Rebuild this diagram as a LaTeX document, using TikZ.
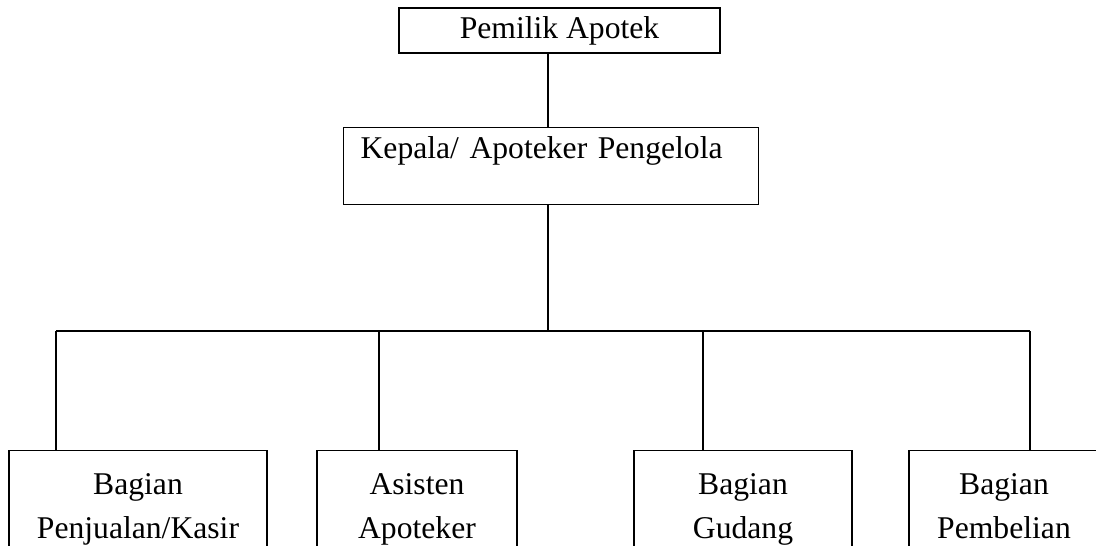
\documentclass[tikz,border=0pt]{standalone}
\usepackage{fontspec}
\setmainfont{Liberation Serif}

\begin{document}
\begin{tikzpicture}[x=0.025cm, y=-0.025cm,
        box/.style={draw, line width=0.9pt, inner sep=0pt},
        unit/.style={box, anchor=north, align=center, text height=2.19cm, text depth=0.6cm},
        link/.style={line width=1.2pt}]
        \useasboundingbox (0, 0) rectangle (1096, 545);
        \clip (0, 0) rectangle (1096, 545);
        \fontsize{22.5}{31}\selectfont

        \node [box, minimum width=8.025cm, minimum height=1.125cm] (owner) at (559.5, 30.5) {Pemilik Apotek};
        \node [box, anchor=north west, text width=9.525cm, align=left, inner xsep=0.425cm,
               text height=0.775cm, text depth=1.15cm] (head) at (343, 127) {Kepala/ Apoteker Pengelola};

        % bagian di bawah
        \node [unit, minimum width=6.45cm] (sales) at (138, 450) {Bagian\\Penjualan/Kasir};
        \node [unit, minimum width=5cm] (asst) at (417, 450) {Asisten\\Apoteker};
        \node [unit, minimum width=5.45cm] (store) at (743, 450) {Bagian\\Gudang};
        \node [unit, minimum width=4.75cm] (buy) at (1004, 450) {Bagian\\Pembelian};

        \coordinate (trunk) at (548, 331);
        \coordinate (j1) at (56, 331);
        \coordinate (j2) at (379, 331);
        \coordinate (j3) at (703, 331);
        \coordinate (j4) at (1030, 331);

        \draw [link] (owner.south -| trunk) -- (head.north -| trunk);
        \draw [link] (head.south -| trunk) -- (trunk);
        \draw [link] (j1) -- (j4);
        \draw [link] (j1) -- (sales.north -| j1);
        \draw [link] (j2) -- (asst.north -| j2);
        \draw [link] (j3) -- (store.north -| j3);
        \draw [link] (j4) -- (buy.north -| j4);
    \end{tikzpicture}
\end{document}
